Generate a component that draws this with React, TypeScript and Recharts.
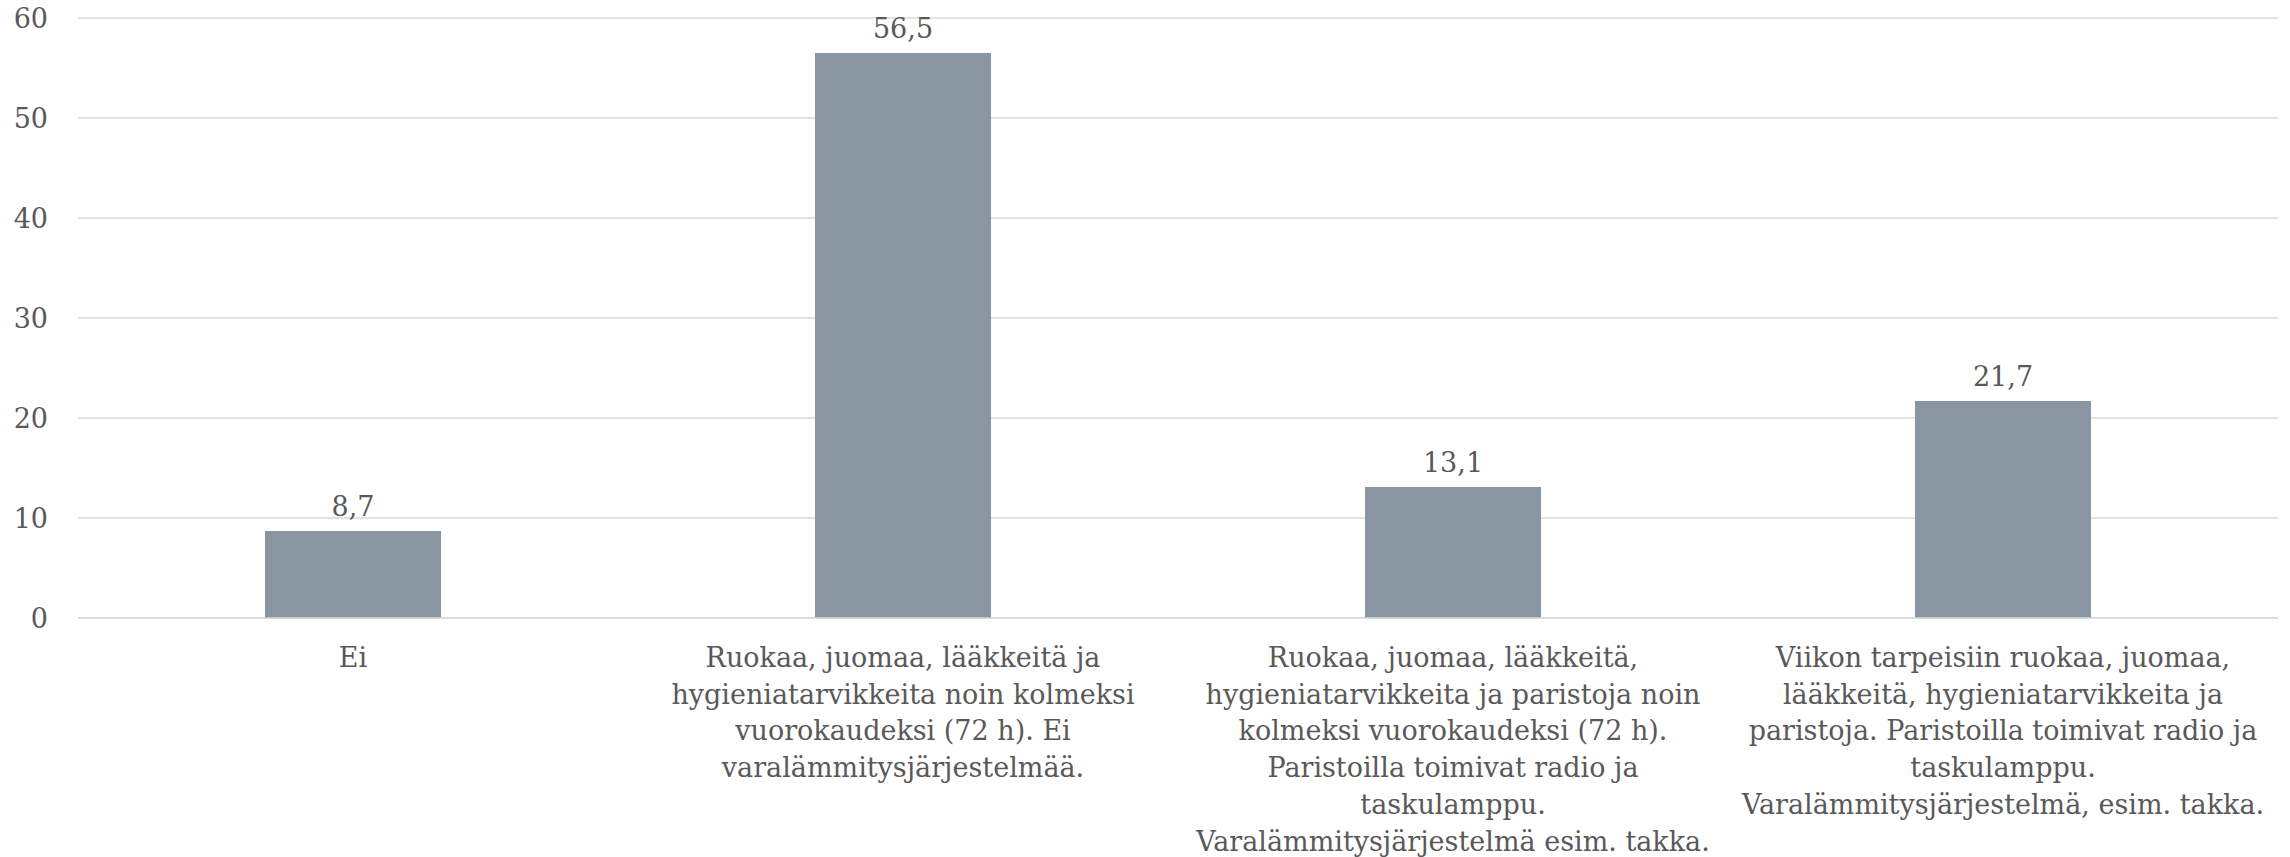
import { Bar, BarChart, CartesianGrid, LabelList, XAxis, YAxis } from 'recharts'

// Varautuminen: osuudet (%) vastausvaihtoehdoittain
const categories = [
  'Ei',
  'Ruokaa, juomaa, lääkkeitä ja\nhygieniatarvikkeita noin kolmeksi\nvuorokaudeksi (72 h). Ei\nvaralämmitysjärjestelmää.',
  'Ruokaa, juomaa, lääkkeitä,\nhygieniatarvikkeita ja paristoja noin\nkolmeksi vuorokaudeksi (72 h).\nParistoilla toimivat radio ja\ntaskulamppu.\nVaralämmitysjärjestelmä esim. takka.',
  'Viikon tarpeisiin ruokaa, juomaa,\nlääkkeitä, hygieniatarvikkeita ja\nparistoja. Paristoilla toimivat radio ja\ntaskulamppu.\nVaralämmitysjärjestelmä, esim. takka.',
]
const values = [8.7, 56.5, 13.1, 21.7]
const yTicks = [0, 10, 20, 30, 40, 50, 60]

const data = categories.map((name, i) => ({ name, value: values[i] }))

const FONT = 'Georgia, "DejaVu Serif", serif'
const TEXT = '#595959'
const BAR = '#8995a0'
const GRID = '#d9d9d9'

function CategoryTick(props: any) {
  const { x, y, payload } = props
  const lines = String(payload.value).split('\n')
  return (
    <text
      x={x}
      y={y}
      textAnchor="middle"
      fill={TEXT}
      fontFamily={FONT}
      fontSize={27}
    >
      {lines.map((line, i) => (
        <tspan key={i} x={x} dy={i === 0 ? 49 : 36.7}>
          {line}
        </tspan>
      ))}
    </text>
  )
}

export default function App() {
  return (
    <div style={{ position: 'fixed', left: 0, top: 0, background: '#fff' }}>
      <BarChart
        width={2290}
        height={857}
        data={data}
        margin={{ top: 18, right: 12, bottom: 0, left: 0 }}
        barCategoryGap="34%"
      >
        <CartesianGrid vertical={false} stroke={GRID} strokeWidth={1.5} />
        <XAxis
          dataKey="name"
          axisLine={{ stroke: GRID, strokeWidth: 1.5 }}
          tickLine={false}
          tickSize={0}
          tickMargin={0}
          tick={<CategoryTick />}
          interval={0}
          height={239}
        />
        <YAxis
          domain={[0, 60]}
          ticks={yTicks}
          width={78}
          axisLine={false}
          tickLine={false}
          tickSize={0}
          tickMargin={30}
          tick={{ fill: TEXT, fontFamily: FONT, fontSize: 27 }}
        />
        <Bar dataKey="value" fill={BAR} isAnimationActive={false}>
          <LabelList
            dataKey="value"
            position="top"
            offset={15}
            fill={TEXT}
            fontFamily={FONT}
            fontSize={27}
            formatter={(v: any) => String(v).replace('.', ',')}
          />
        </Bar>
      </BarChart>
    </div>
  )
}
